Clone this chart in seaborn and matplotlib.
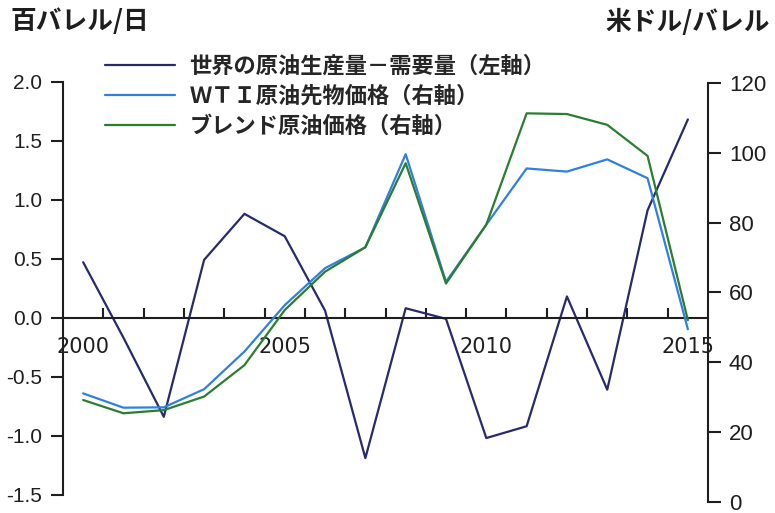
import matplotlib
matplotlib.use("Agg")
import matplotlib.pyplot as plt
import seaborn as sns
import numpy as np
import pandas as pd

# data
years = list(range(2000, 2016))
balance = [0.47, -0.17, -0.84, 0.49, 0.88, 0.69, 0.06, -1.19,
           0.08, -0.01, -1.02, -0.92, 0.18, -0.61, 0.91, 1.68]
wti = [31.0, 26.9, 27.0, 32.2, 43.0, 56.3, 66.9, 72.9,
       99.6, 63.0, 79.4, 95.5, 94.6, 98.1, 92.7, 49.4]
brent = [29.1, 25.3, 26.2, 30.1, 39.1, 54.9, 65.9, 72.9,
         97.0, 62.5, 79.4, 111.3, 111.1, 108.0, 99.1, 52.0]
labels = ["世界の原油生産量－需要量（左軸）", "ＷＴＩ原油先物価格（右軸）", "ブレンド原油価格（右軸）"]
left_ticks = [-1.5, -1.0, -0.5, 0.0, 0.5, 1.0, 1.5, 2.0]
right_ticks = [0, 20, 40, 60, 80, 100, 120]
year_labels = [2000, 2005, 2010, 2015]

df = pd.DataFrame({"year": years, "balance": balance, "wti": wti, "brent": brent})

sns.set_style("white")
plt.rcParams["font.family"] = ["Noto Sans CJK JP", "DejaVu Sans"]

navy = "#272a6c"
blue = "#2f80e0"
green = "#2b7d2f"
ink = "#1e1e1e"

fig = plt.figure(figsize=(7.75, 5.13), dpi=100)
ax = fig.add_axes([0.0813, 0.0357, 0.8323, 0.8051])
ax2 = fig.add_axes([0.0813, 0.0224, 0.8323, 0.8158])
ax2.patch.set_visible(False)

sns.lineplot(data=df, x="year", y="balance", ax=ax, color=navy, lw=1.6,
             label=labels[0], legend=False)
sns.lineplot(data=df, x="year", y="wti", ax=ax2, color=blue, lw=1.6,
             label=labels[1], legend=False)
sns.lineplot(data=df, x="year", y="brent", ax=ax2, color=green, lw=1.6,
             label=labels[2], legend=False)

for a in (ax, ax2):
    a.set_xlim(1999.5, 2015.5)
    a.set_xlabel("")
    a.set_ylabel("")
    for s in a.spines.values():
        s.set_visible(False)

# left axis
ax.set_ylim(-1.5, 2.0)
ax.set_yticks(left_ticks)
ax.set_yticklabels([f"{v:.1f}" for v in left_ticks], family="Liberation Sans",
                   fontsize=15, color=ink)
ax.spines["left"].set_visible(True)
ax.spines["left"].set_linewidth(1.5)
ax.spines["left"].set_color(ink)
ax.tick_params(axis="y", direction="out", length=9, width=1.5, color=ink, pad=6, left=True)

# x axis drawn on y = 0
ax.spines["bottom"].set_visible(True)
ax.spines["bottom"].set_position(("data", 0))
ax.spines["bottom"].set_linewidth(1.5)
ax.spines["bottom"].set_color(ink)
ax.set_xticks(year_labels)
ax.set_xticklabels([str(y) for y in year_labels], family="DejaVu Sans", fontsize=15, color=ink)
ax.set_xticks(np.arange(2000.5, 2015, 1.0), minor=True)
ax.tick_params(axis="x", which="major", length=0, pad=14, bottom=True)
ax.tick_params(axis="x", which="minor", direction="in", length=7, width=1.5,
               color=ink, bottom=True)

# right axis
ax2.set_ylim(0, 120)
ax2.yaxis.tick_right()
ax2.set_yticks(right_ticks)
ax2.set_yticklabels([str(v) for v in right_ticks], family="Liberation Sans",
                    fontsize=16, color=ink)
ax2.spines["right"].set_visible(True)
ax2.spines["right"].set_linewidth(1.5)
ax2.spines["right"].set_color(ink)
ax2.tick_params(axis="y", direction="out", length=9, width=1.5, color=ink,
                pad=6, right=True, left=False)
ax2.tick_params(axis="x", bottom=False, labelbottom=False)

h1, l1 = ax.get_legend_handles_labels()
h2, l2 = ax2.get_legend_handles_labels()
fig.legend(h1 + h2, l1 + l2, loc="upper left", bbox_to_anchor=(105 / 775, 1 - 55 / 513),
           frameon=False, borderpad=0, borderaxespad=0, handlelength=3.15,
           handletextpad=0.65, labelspacing=0.3,
           prop={"family": ["Noto Sans CJK JP", "DejaVu Sans"], "size": 16, "weight": "bold"})

fig.text(10 / 775, 1 - 22 / 513, "百バレル/日", ha="left", va="center",
         fontsize=18.5, fontweight="bold", color=ink)
fig.text(770 / 775, 1 - 22 / 513, "米ドル/バレル", ha="right", va="center",
         fontsize=18.5, fontweight="bold", color=ink)

fig.savefig("out.png", dpi=100)
